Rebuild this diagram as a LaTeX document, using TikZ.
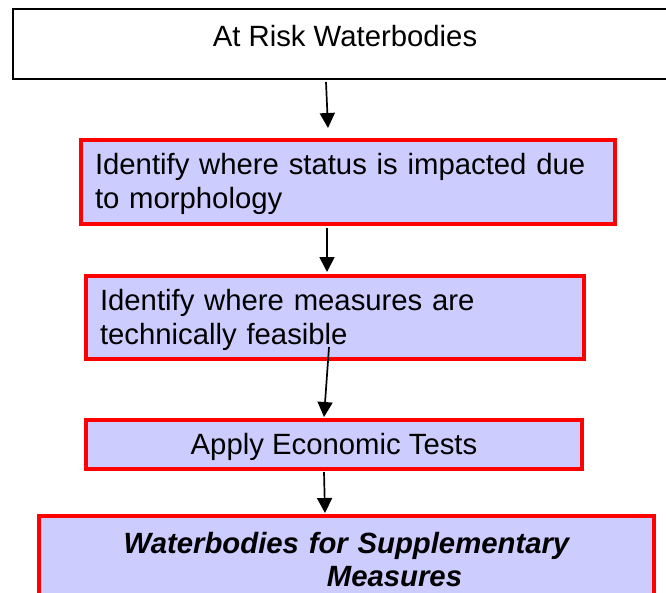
\documentclass[tikz,border=0pt]{standalone}
\usepackage{fontspec}
\setmainfont{Liberation Sans}
\usetikzlibrary{arrows.meta}

\definecolor{stagefill}{HTML}{CCCCFF}

\tikzset{
	box/.style={inner sep=0pt, anchor=north west, font=\fontsize{29.3}{34}\selectfont},
	stage/.style={box, draw=red, line width=4pt, fill=stagefill},
	flow/.style={line width=1.7pt, -{Triangle[length=15pt,width=15pt]}},
}

\begin{document}
\begin{tikzpicture}[x=1pt, y=-1pt]

	\clip (0,0) rectangle (666,592);

	\node[box, draw, line width=2pt, minimum width=664pt, text height=37pt, text depth=33pt] (risk) at (12,8) {At Risk Waterbodies};
	\node[stage, text width=506pt, inner xsep=14pt, align=left, text height=34pt, text depth=50pt] (impact) at (79,138) {Identify where status is impacted due\\to morphology};
	\node[stage, text width=470pt, inner xsep=14pt, align=left, text height=34pt, text depth=49pt] (feasible) at (84,274) {Identify where measures are\\technically feasible};
	\node[stage, minimum width=496pt, text height=34pt, text depth=15pt] (econ) at (84,418) {Apply Economic Tests};
	\node[stage, text width=583pt, inner xsep=16pt, align=center, text height=37pt, text depth=64pt, font=\fontsize{29.3}{33}\selectfont\bfseries\itshape] (result) at (37,514) {Waterbodies for Supplementary\\\hspace*{96pt}Measures};

	\draw[flow] ([xshift=-19pt, yshift=-2pt]risk.south) -- ([xshift=-20pt, yshift=10pt]impact.north);
	\draw[flow] ([xshift=-21pt, yshift=-2pt]impact.south) -- ([xshift=-8pt, yshift=2pt]feasible.north);
	\draw[flow] ([xshift=-6pt, yshift=14pt]feasible.south) -- ([xshift=-10pt, yshift=1pt]econ.north);
	\draw[flow] ([xshift=-10pt, yshift=-1pt]econ.south) -- ([xshift=-21.5pt, yshift=1pt]result.north);

\end{tikzpicture}
\end{document}
